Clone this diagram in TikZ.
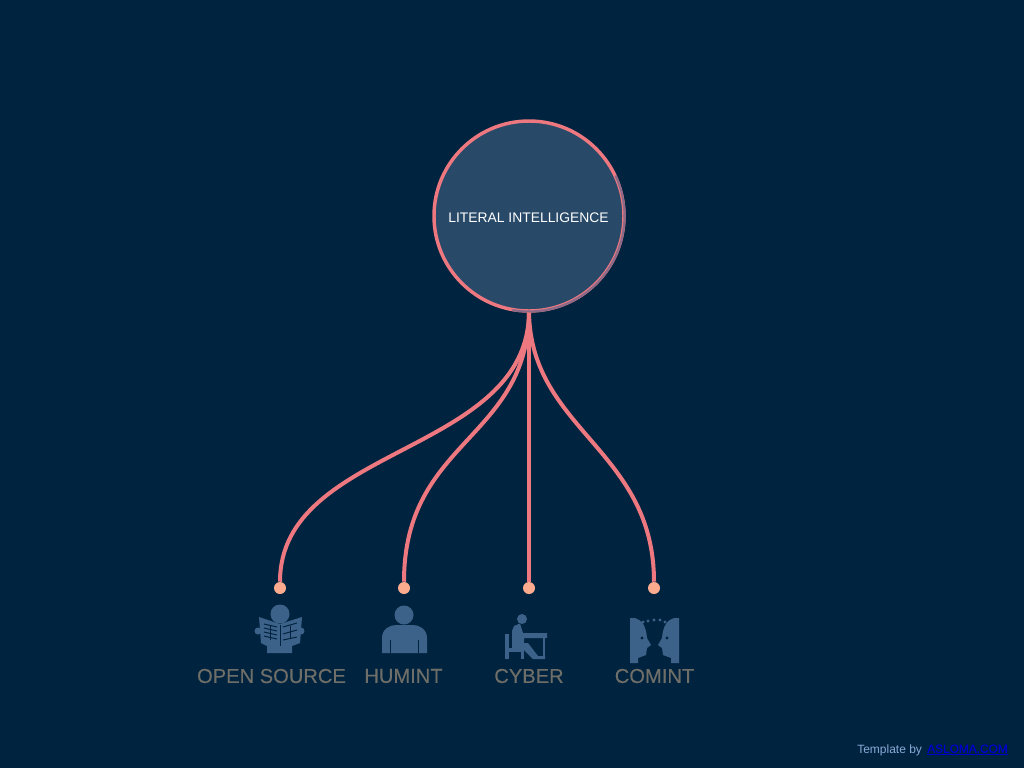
\documentclass[tikz,border=0pt]{standalone}
\usepackage{fontspec}
\setmainfont{Liberation Sans}
\newfontfamily\heavyfont[FakeBold=0.25]{Liberation Sans}
\definecolor{bg_navy}{HTML}{00243F}
\definecolor{hub_blue}{HTML}{284A68}
\definecolor{icon_blue}{HTML}{3D6289}
\definecolor{link_pink}{HTML}{EE7880}
\definecolor{ring_mute}{HTML}{8A6A88}
\definecolor{dot_peach}{HTML}{FDAB8F}
\definecolor{label_grey}{HTML}{6F6E69}
\definecolor{credit_blue}{HTML}{8BA9D8}
\definecolor{url_blue}{HTML}{0000CC}
\begin{document}
\begin{tikzpicture}[
    x=0.75pt, y=-0.75pt,
    hub_style/.style={circle, draw=link_pink, line width=2.6pt, fill=hub_blue, minimum size=142.5pt, inner sep=0pt},
    hub_text/.style={text=white, font=\fontsize{10.4}{12}\selectfont, inner sep=0pt},
    link/.style={draw=link_pink, line width=3pt},
    dot_style/.style={circle, fill=dot_peach, minimum size=9pt, inner sep=0pt},
    label_style/.style={text=label_grey, font=\fontsize{15.1}{18}\selectfont\heavyfont, inner sep=0pt},
    credit/.style={font=\fontsize{9}{11}\selectfont, inner sep=0pt},
    icon/.style={fill=icon_blue},
    cut/.style={draw=bg_navy, line width=0.75pt}
]
\useasboundingbox (0,0) rectangle (1024,768);
\fill[bg_navy] (0,0) rectangle (1024,768);

% Dots
\node[dot_style] (dot_open) at (280,588) {};
\node[dot_style] (dot_hum) at (404,588) {};
\node[dot_style] (dot_cyb) at (529,588) {};
\node[dot_style] (dot_com) at (654,588) {};

% Hub
\node[hub_style] (hub) at (529,216) {};
\node[hub_text] (hub_label) at (528.5,218) {LITERAL INTELLIGENCE};
\draw[ring_mute, line width=1.6pt] (hub.center) ++(-25:95.5) arc[start angle=-25, end angle=100, radius=95.5];

% Links
\draw[link] (hub.south) .. controls (527,455) and (280,445) .. (dot_open);
\draw[link] (hub.south) .. controls (527,440) and (404,440) .. (dot_hum);
\draw[link] (hub.south) -- (dot_cyb);
\draw[link] (hub.south) .. controls (531,430) and (654,450) .. (dot_com);

% Labels
\node[label_style] (lab_open) at (271.5,676) {OPEN SOURCE};
\node[label_style] (lab_hum) at (403.5,676) {HUMINT};
\node[label_style] (lab_cyb) at (529,676) {CYBER};
\node[label_style] (lab_com) at (654.5,676) {COMINT};

% Newspaper
\fill[icon] (280,614) circle[radius=9.5];
\fill[icon] (259,617) -- (280,624) -- (302,617) -- (300,643) -- (292,646) -- (292,653) -- (267,653) -- (267,646) -- (261,643) -- cycle;
\fill[icon] (258,631) circle[radius=3.5];
\fill[icon] (301,631) circle[radius=3.5];
\draw[cut] (280,625) -- (280,646);
\foreach \yy in {626,630,634,638} {
  \draw[cut] (264,\yy-2) -- (277,\yy+1);
}
\draw[cut] (270,625) -- (270,640);
\draw[cut] (283,627) -- (297,623);
\draw[cut] (283,634) -- (297,630);
\draw[cut] (283,640) -- (297,637);
\draw[cut] (290,626) -- (290,638);

% Person
\fill[icon] (404,615) circle[radius=9.5];
\fill[icon] (382,653) -- (382,638) .. controls (382,629) and (390,625) .. (396,625) -- (413,625) .. controls (419,625) and (427,629) .. (427,638) -- (427,653) -- cycle;
\draw[cut] (390,640) -- (390,653);
\draw[cut] (418,640) -- (418,653);

% Desk
\fill[icon] (522,619) circle[radius=5];
\fill[icon] (512,647) -- (512,631) -- (514,626) -- (520,623.5) -- (523,633) -- (547,633) -- (547,638) -- (524,638) -- (524,643) -- (528,643) -- (538,656) -- (545,656) -- (545,659) -- (533,659) -- (523,649) -- (512,649) -- cycle;
\fill[icon] (543,638) rectangle (545,658);
\fill[icon] (505,634) rectangle (509,659);
\fill[icon] (505,648) rectangle (524,652);
\fill[icon] (521,648) rectangle (524,659);

% Two heads
\foreach \mx/\sx in {0/1, 1309/-1} {
  \begin{scope}[shift={(\mx,0)}, xscale=\sx]
    \fill[icon] (630,618) -- (635,618) .. controls (642,620) and (646,626) .. (647,638) -- (651,645) -- (647,648) -- (646,655) -- (638,658) -- (638,663) -- (630,663) -- cycle;
    \fill[bg_navy] (642,638) circle[radius=1.6];
  \end{scope}
}
\foreach \dx/\dy in {643/622, 648/621, 654/620, 660/620, 665/622} {
  \fill[icon] (\dx,\dy) circle[radius=1.6];
}

% Credit
\node[credit, text=credit_blue, anchor=west] (credit_by) at (857,750) {Template by};
\node[credit, text=url_blue, anchor=west, font=\fontsize{8.9}{11}\selectfont\heavyfont] (credit_url) at (927,750) {\underline{ASLOMA.COM}};
\end{tikzpicture}
\end{document}
